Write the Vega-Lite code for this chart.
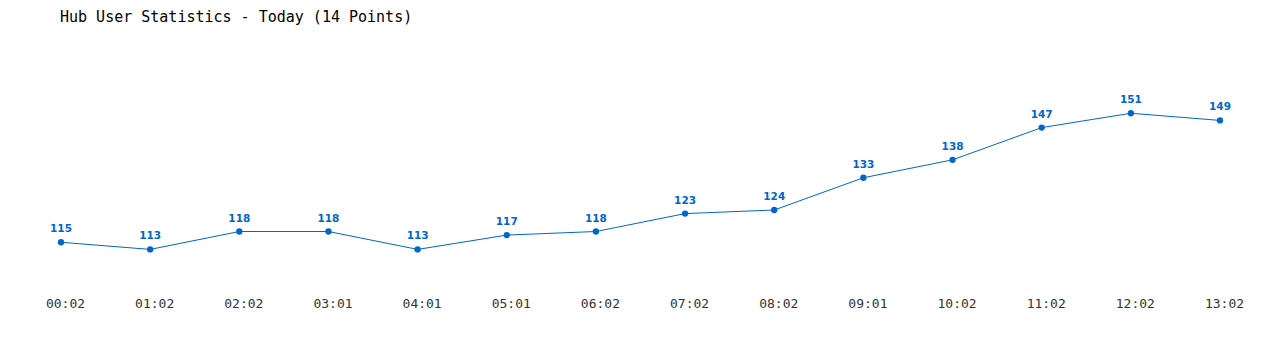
{
  "$schema": "https://vega.github.io/schema/vega-lite/v6.json",
  "width": 1159,
  "height": 215,
  "autosize": {"type": "none"},
  "padding": {"left": 61, "top": 81, "right": 60, "bottom": 54},
  "background": "white",
  "title": {
    "text": "Hub User Statistics - Today (14 Points)",
    "anchor": "start",
    "frame": "group",
    "font": "DejaVu Sans Mono",
    "fontSize": 15,
    "fontWeight": "normal",
    "color": "#000000",
    "offset": 56,
    "dx": -1
  },
  "data": {
    "values": [
      {"time": "00:02", "users": 115},
      {"time": "01:02", "users": 113},
      {"time": "02:02", "users": 118},
      {"time": "03:01", "users": 118},
      {"time": "04:01", "users": 113},
      {"time": "05:01", "users": 117},
      {"time": "06:02", "users": 118},
      {"time": "07:02", "users": 123},
      {"time": "08:02", "users": 124},
      {"time": "09:01", "users": 133},
      {"time": "10:02", "users": 138},
      {"time": "11:02", "users": 147},
      {"time": "12:02", "users": 151},
      {"time": "13:02", "users": 149}
    ]
  },
  "encoding": {
    "x": {
      "field": "time",
      "type": "ordinal",
      "sort": null,
      "scale": {"type": "point", "padding": 0},
      "axis": {
        "title": null,
        "domain": false,
        "ticks": false,
        "grid": false,
        "labelAngle": 0,
        "labelOffset": 4,
        "labelFont": "DejaVu Sans Mono",
        "labelFontSize": 13,
        "labelColor": "#333333",
        "labelPadding": 1
      }
    },
    "y": {
      "field": "users",
      "type": "quantitative",
      "scale": {"domain": [100, 160], "nice": false, "zero": false},
      "axis": null
    }
  },
  "layer": [
    {"mark": {"type": "line", "color": "#0066cc", "strokeWidth": 1}},
    {"mark": {"type": "point", "filled": true, "color": "#0066cc", "size": 40, "opacity": 1}},
    {
      "mark": {"type": "text", "color": "#0066cc", "font": "DejaVu Sans", "fontWeight": "bold", "fontSize": 10.5, "baseline": "bottom", "dy": -8},
      "encoding": {"text": {"field": "users", "type": "quantitative"}}
    }
  ],
  "config": {"view": {"stroke": null}}
}
